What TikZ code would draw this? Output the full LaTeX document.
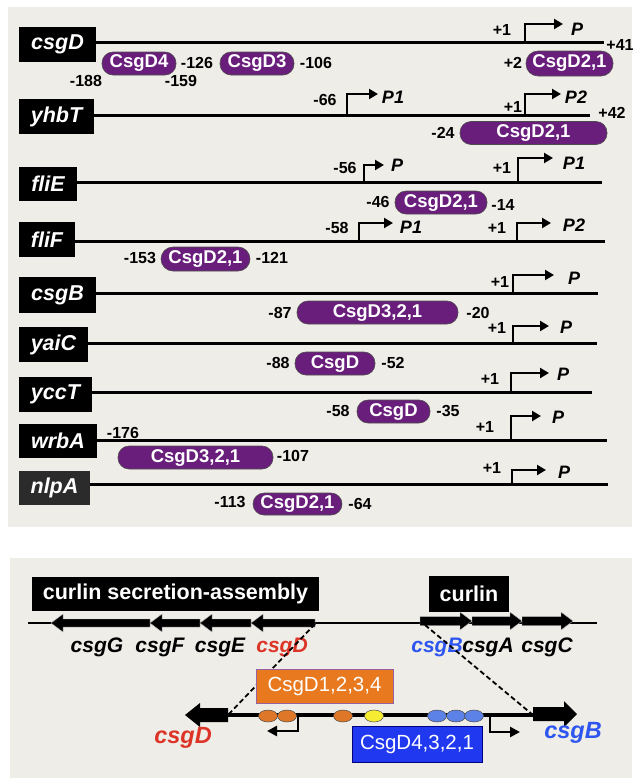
\documentclass[tikz,border=0pt]{standalone}
\usepackage{fontspec}
\setmainfont{Liberation Sans}
\usetikzlibrary{arrows.meta,shapes.geometric}
\definecolor{panel}{RGB}{239,237,231}
\definecolor{csgpurple}{RGB}{106,30,124}
\definecolor{genered}{RGB}{221,52,40}
\definecolor{geneblue}{RGB}{45,85,240}
\definecolor{boxorange}{RGB}{232,121,30}
\definecolor{boxblue}{RGB}{32,56,240}
\definecolor{ovorange}{RGB}{222,120,40}
\definecolor{ovyellow}{RGB}{246,236,50}
\definecolor{ovblue}{RGB}{92,130,232}
% leftward / rightward gene arrows: tip, tail, y, head length, head half-height, body half-height
\newcommand\geneL[6]{\fill[draw=gray!50,line width=0.4pt] (#1,#3) -- (#1+#4,#3-#5) -- (#1+#4,#3-#6) -- (#2,#3-#6) -- (#2,#3+#6) -- (#1+#4,#3+#6) -- (#1+#4,#3+#5) -- cycle;}
\newcommand\geneR[6]{\fill[draw=gray!50,line width=0.4pt] (#1,#3) -- (#1-#4,#3-#5) -- (#1-#4,#3-#6) -- (#2,#3-#6) -- (#2,#3+#6) -- (#1-#4,#3+#6) -- (#1-#4,#3+#5) -- cycle;}
\begin{document}
\begin{tikzpicture}[x=1pt,y=-1pt,
  genebox/.style={fill=black, text=white, font=\fontsize{21.5}{24}\selectfont\bfseries\itshape, inner sep=0pt},
  num/.style={font=\fontsize{16}{18}\selectfont\bfseries, inner sep=0pt},
  pill/.style={fill=csgpurple, draw=black!70, line width=0.6pt, rounded corners=11pt, text=white,
    font=\fontsize{18.5}{20}\selectfont\bfseries, inner sep=0pt},
  plab/.style={font=\fontsize{18}{20}\selectfont\bfseries\itshape, inner sep=0pt},
  dna/.style={line width=3pt},
  tssarrow/.style={line width=2.6pt, -{Triangle[length=9pt,width=10pt]}},
  gname/.style={font=\fontsize{21}{24}\selectfont\bfseries\itshape, inner sep=0pt},
  titlebox/.style={fill=black, text=white, font=\fontsize{21.5}{24}\selectfont\bfseries, inner sep=0pt},
  sitebox/.style={text=white, font=\fontsize{20.5}{22}\selectfont, inner sep=0pt},
  site/.style={ellipse, draw=black!70, line width=0.5pt, minimum width=19pt, minimum height=12pt, inner sep=0pt},
  smallarrow/.style={line width=2.5pt, -{Triangle[length=10pt,width=10pt]}},
  linkline/.style={line width=1.8pt, dash pattern=on 5pt off 3pt}
]
\useasboundingbox (0,0) rectangle (636,779);
% panels
\fill[panel] (8,7) rectangle (632,527);
\fill[panel] (10,558) rectangle (632,778);

% ---------------- csgD ----------------
\node[genebox, minimum width=77pt, minimum height=35pt] (g1) at (57.5,44.5) {csgD};
\coordinate (e1) at (604,42);
\draw[dna] (g1.east |- e1) -- (e1);
\node[num] (n1a) at (620,45) {+41};
\coordinate (t1) at (525,42); \coordinate (h1) at (563,24);
\draw[tssarrow] (t1) |- (h1);
\node[num] (n1b) at (502,30) {+1};
\node[plab] (p1) at (577,29) {P};
\node[pill, minimum width=74pt, minimum height=23pt] (b1a) at (139,63.5) {CsgD4};
\node[pill, minimum width=74pt, minimum height=23pt] (b1b) at (257,63.5) {CsgD3};
\node[pill, minimum width=87pt, minimum height=25pt, rounded corners=12pt] (b1c) at (569.5,63.5) {CsgD2,1};
\node[num] at (197,63) {-126};
\node[num] at (316,63) {-106};
\node[num] at (86,81) {-188};
\node[num] at (181,81) {-159};
\node[num] at (513,63) {+2};

% ---------------- yhbT ----------------
\node[genebox, minimum width=75pt, minimum height=35pt] (g2) at (56.5,116.5) {yhbT};
\coordinate (e2) at (590,115);
\draw[dna] (g2.east |- e2) -- (e2);
\node[num] at (612,113) {+42};
\coordinate (t2a) at (347,115); \coordinate (h2a) at (378,94);
\draw[tssarrow] (t2a) |- (h2a);
\node[num] at (325,100) {-66};
\node[plab] at (393,97) {P1};
\coordinate (t2b) at (525,115); \coordinate (h2b) at (561,94);
\draw[tssarrow] (t2b) |- (h2b);
\node[num] at (513,107) {+1};
\node[plab] at (576,97) {P2};
\node[pill, minimum width=147pt, minimum height=23pt] (b2) at (533.5,133) {CsgD2,1};
\node[num] at (443,133) {-24};

% ---------------- fliE ----------------
\node[genebox, minimum width=58pt, minimum height=34pt] (g3) at (48,184) {fliE};
\coordinate (e3) at (602,182);
\draw[dna] (g3.east |- e3) -- (e3);
\coordinate (t3a) at (364,182); \coordinate (h3a) at (384,165);
\draw[tssarrow] (t3a) |- (h3a);
\node[num] at (345,168) {-56};
\node[plab] at (397,165) {P};
\coordinate (t3b) at (518,182); \coordinate (h3b) at (553,158);
\draw[tssarrow] (t3b) |- (h3b);
\node[num] at (502,168) {+1};
\node[plab] at (574,163) {P1};
\node[pill, minimum width=92pt, minimum height=23pt] (b3) at (441,202.5) {CsgD2,1};
\node[num] at (378,202) {-46};
\node[num] at (503,205) {-14};

% ---------------- fliF ----------------
\node[genebox, minimum width=56pt, minimum height=35pt] (g4) at (47,239.5) {fliF};
\coordinate (e4) at (605,241);
\draw[dna] (g4.east |- e4) -- (e4);
\coordinate (t4a) at (359,241); \coordinate (h4a) at (393,223);
\draw[tssarrow] (t4a) |- (h4a);
\node[num] at (337,228) {-58};
\node[plab] at (411,227) {P1};
\coordinate (t4b) at (517,241); \coordinate (h4b) at (551,223);
\draw[tssarrow] (t4b) |- (h4b);
\node[num] at (497,228) {+1};
\node[plab] at (574,225) {P2};
\node[pill, minimum width=89pt, minimum height=24pt, rounded corners=12pt] (b4) at (205.5,259) {CsgD2,1};
\node[num] at (140,258) {-153};
\node[num] at (272,258) {-121};

% ---------------- csgB ----------------
\node[genebox, minimum width=77pt, minimum height=36pt] (g5) at (57.5,295) {csgB};
\coordinate (e5) at (598,293);
\draw[dna] (g5.east |- e5) -- (e5);
\coordinate (t5) at (513,293); \coordinate (h5) at (554,275);
\draw[tssarrow] (t5) |- (h5);
\node[num] at (500,282) {+1};
\node[plab] at (574,278) {P};
\node[pill, minimum width=161pt, minimum height=23pt] (b5) at (377.5,312.5) {CsgD3,2,1};
\node[num] at (280,313) {-87};
\node[num] at (478,313) {-20};

% ---------------- yaiC ----------------
\node[genebox, minimum width=69pt, minimum height=35pt] (g6) at (53.5,344.5) {yaiC};
\coordinate (e6) at (597,343);
\draw[dna] (g6.east |- e6) -- (e6);
\coordinate (t6) at (513,343); \coordinate (h6) at (549,326);
\draw[tssarrow] (t6) |- (h6);
\node[num] at (497,328) {+1};
\node[plab] at (566,327) {P};
\node[pill, minimum width=80pt, minimum height=23pt] (b6) at (335,363.5) {CsgD};
\node[num] at (278,363) {-88};
\node[num] at (393,363) {-52};

% ---------------- yccT ----------------
\node[genebox, minimum width=73pt, minimum height=35pt] (g7) at (55.5,394.5) {yccT};
\coordinate (e7) at (592,392);
\draw[dna] (g7.east |- e7) -- (e7);
\coordinate (t7) at (511,392); \coordinate (h7) at (549,373);
\draw[tssarrow] (t7) |- (h7);
\node[num] at (490,379) {+1};
\node[plab] at (563,374) {P};
\node[pill, minimum width=73pt, minimum height=23pt] (b7) at (393.5,411.5) {CsgD};
\node[num] at (338,411) {-58};
\node[num] at (448,411) {-35};

% ---------------- wrbA ----------------
\node[genebox, minimum width=78pt, minimum height=34pt] (g8) at (58,441) {wrbA};
\coordinate (e8) at (607,440);
\draw[dna] (g8.east |- e8) -- (e8);
\coordinate (t8) at (511,440); \coordinate (h8) at (541,416);
\draw[tssarrow] (t8) |- (h8);
\node[num] at (485,427) {+1};
\node[plab] at (558,417) {P};
\node[num] at (123,433) {-176};
\node[pill, minimum width=155pt, minimum height=23pt] (b8) at (195.5,457.5) {CsgD3,2,1};
\node[num] at (293,456) {-107};

% ---------------- nlpA ----------------
\node[genebox, fill=black!83, minimum width=71pt, minimum height=34pt] (g9) at (54.5,488) {nlpA};
\coordinate (e9) at (608,484);
\draw[dna] (g9.east |- e9) -- (e9);
\coordinate (t9) at (512,484); \coordinate (h9) at (546,470);
\draw[tssarrow] (t9) |- (h9);
\node[num] at (492,468) {+1};
\node[plab] at (564,472) {P};
\node[pill, minimum width=89pt, minimum height=22pt] (b9) at (297.5,504) {CsgD2,1};
\node[num] at (230,502) {-113};
\node[num] at (360,504) {-64};

% ================= csg operons =================
\node[titlebox, minimum width=287pt, minimum height=34pt] (sec) at (175.5,594) {curlin secretion-assembly};
\node[titlebox, minimum width=80pt, minimum height=36pt] (cur) at (469,594) {curlin};
\coordinate (chrL) at (28,623); \coordinate (chrR) at (597,623);
\draw[line width=1.5pt] (chrL) -- (chrR);
% csgDEFG (leftward)
\geneL{51}{150}{623}{12}{9}{4}
\geneL{150}{200}{623}{12}{9}{4}
\geneL{200}{251}{623}{12}{9}{4}
\geneL{251}{315}{623}{12}{9}{4}
% csgBAC (rightward)
\geneR{472}{420}{621}{12}{9}{4.5}
\geneR{522}{472}{621}{12}{9}{4.5}
\geneR{573}{522}{621}{12}{9}{4.5}
\node[gname] at (97,647) {csgG};
\node[gname] at (160,647) {csgF};
\node[gname] at (220,647) {csgE};
\node[gname, text=genered] at (282,647) {csgD};
\node[gname, text=geneblue] at (437,647) {csgB};
\node[gname] at (488,647) {csgA};
\node[gname] at (547,647) {csgC};

% intergenic region, enlarged
\coordinate (dU) at (315,624); \coordinate (bU) at (425,625);
\coordinate (dL) at (228,715); \coordinate (bL) at (533,715);
\draw[linkline] (dU) -- (dL);
\draw[linkline] (bU) -- (bL);
\draw[line width=4pt] (dL) -- (bL);
\fill (185,715) -- (200,703) -- (200,708) -- (228,708) -- (228,722) -- (200,722) -- (200,727) -- cycle;
\fill (577,714) -- (564,701) -- (564,707) -- (533,707) -- (533,721) -- (564,721) -- (564,727) -- cycle;
\node[gname, font=\fontsize{23.5}{26}\selectfont\bfseries\itshape, text=genered] at (183,738) {csgD};
\node[gname, font=\fontsize{23.5}{26}\selectfont\bfseries\itshape, text=geneblue] at (573,733) {csgB};

% divergent promoters
\coordinate (tD) at (298,716); \coordinate (hD) at (267,731);
\draw[smallarrow] (tD) |- (hD);
\coordinate (tB) at (490,716); \coordinate (hB) at (520,732);
\draw[smallarrow] (tB) |- (hB);

% CsgD binding sites
\node[site, fill=ovorange] (s1) at (268,716) {};
\node[site, fill=ovorange] (s2) at (287,716) {};
\node[site, fill=ovorange] (s3) at (343,716) {};
\node[site, fill=ovyellow] (s4) at (374,716) {};
\node[site, fill=ovblue] (s5) at (437,716) {};
\node[site, fill=ovblue] (s6) at (456,716) {};
\node[site, fill=ovblue] (s7) at (474,716) {};

\node[sitebox, fill=boxorange, draw=csgpurple!70, line width=0.6pt, minimum width=137pt, minimum height=34pt] (ob) at (324.5,686) {CsgD1,2,3,4};
\node[sitebox, fill=boxblue, draw=blue!50!black, line width=0.6pt, minimum width=130pt, minimum height=36pt] (bb) at (417,744) {CsgD4,3,2,1};
\end{tikzpicture}
\end{document}
